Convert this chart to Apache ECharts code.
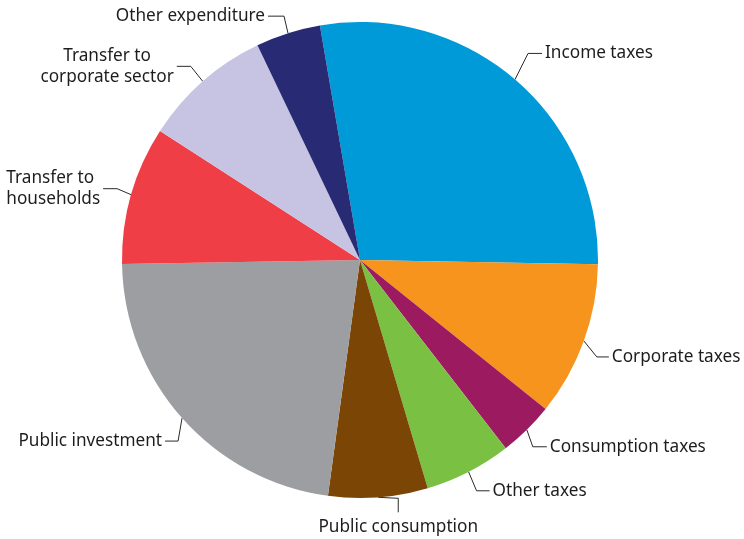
<!DOCTYPE html>
<html>
<head>
<meta charset="utf-8">
<script src="https://cdn.jsdelivr.net/npm/echarts@6/dist/echarts.min.js"></script>
<style>html,body{margin:0;padding:0;background:#fff;}#c{width:744px;height:539px;}</style>
</head>
<body>
<div id="c"></div>
<script>
const categories = ["Income taxes","Corporate taxes","Consumption taxes","Other taxes","Public consumption","Public investment","Transfer to\nhouseholds","Transfer to\ncorporate sector","Other expenditure"];
const values = [28.0, 10.5, 3.75, 5.9, 6.75, 22.6, 9.4, 8.8, 4.4];
const colors = ["#009ad9","#f7941e","#9c1a5f","#7ac143","#7b4605","#9d9ea2","#ef3e46","#c6c4e2","#292a74"];

// leader-line shape per label: elbow offset from slice edge, then horizontal run; text alignment mode
const leaders = [
  {dx:13,dy:-26,run:14,mode:'left'},
  {dx:13,dy:16,run:12,mode:'left'},
  {dx:6,dy:17,run:14,mode:'left'},
  {dx:8,dy:19,run:13,mode:'left'},
  {dx:20,dy:1,run:14,mode:'below'},
  {dx:-4,dy:23,run:-13,mode:'right'},
  {dx:-14,dy:-6,run:-14,mode:'blockLeft'},
  {dx:-12,dy:-15,run:-14,mode:'blockCenter'},
  {dx:-4,dy:-17,run:-16,mode:'right'}
];

const chart = echarts.init(document.getElementById('c'), null, {renderer:'canvas'});
chart.setOption({
  animation:false,
  backgroundColor:'#fff',
  series:[{
    type:'pie',
    center:[360,260],
    radius:[0,238],
    startAngle:99.7,
    clockwise:true,
    avoidLabelOverlap:false,
    itemStyle:{borderWidth:0},
    label:{
      show:true,position:'outside',
      fontFamily:'Noto Sans',fontSize:17.2,color:'#1f1c1d',lineHeight:21
    },
    labelLine:{show:true,length:20,length2:14,lineStyle:{color:'#2a2a2a',width:1}},
    labelLayout:function(p){
      const L = leaders[p.dataIndex];
      const s = p.labelLinePoints[0];
      const e1 = [s[0]+L.dx, s[1]+L.dy];
      const w = p.labelRect.width;
      if (L.mode==='below'){
        const e2 = [e1[0], e1[1]+L.run];
        return {x:e2[0], y:e2[1]+4, align:'center', verticalAlign:'top', labelLinePoints:[s,e1,e2]};
      }
      const e2 = [e1[0]+L.run, e1[1]];
      if (L.mode==='left') return {x:e2[0]+3, y:e2[1], align:'left', verticalAlign:'middle', labelLinePoints:[s,e1,e2]};
      if (L.mode==='right') return {x:e2[0]-3, y:e2[1], align:'right', verticalAlign:'middle', labelLinePoints:[s,e1,e2]};
      if (L.mode==='blockLeft') return {x:e2[0]-3-w, y:e2[1], align:'left', verticalAlign:'middle', labelLinePoints:[s,e1,e2]};
      return {x:e2[0]-3-w/2, y:e2[1], align:'center', verticalAlign:'middle', labelLinePoints:[s,e1,e2]};
    },
    data:categories.map((n,i)=>({name:n,value:values[i],itemStyle:{color:colors[i]}}))
  }]
});
</script>
</body>
</html>
